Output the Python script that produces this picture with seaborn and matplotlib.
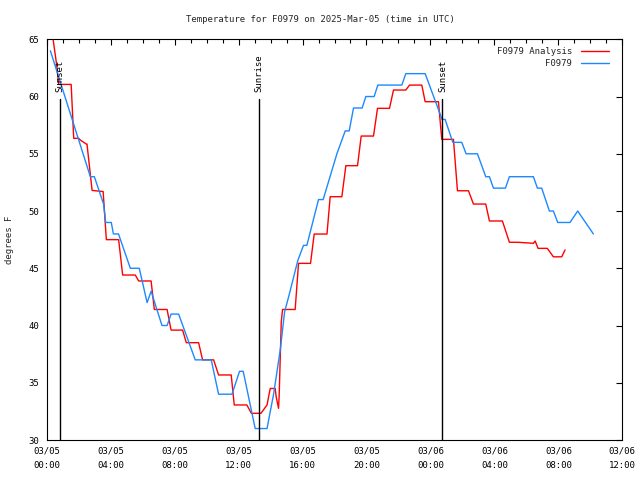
import numpy as np
import pandas as pd
import matplotlib
matplotlib.use("Agg")
import matplotlib.pyplot as plt
import matplotlib.dates as mdates
import matplotlib.transforms as mtransforms
import seaborn as sns

# ---------------- data ----------------
title = "Temperature for F0979 on 2025-Mar-05 (time in UTC)"
ylabel = "degrees F"
red_label = "F0979 Analysis"
blue_label = "F0979"

# hours after 2025-03-05 00:00 UTC
red_hours = [0.33, 0.40, 0.61, 0.75, 1.53, 1.69, 2.00, 2.10, 2.48, 2.52,
             2.84, 3.53, 3.73, 4.50, 4.75, 5.54, 5.75, 6.53, 6.73, 7.53,
             7.78, 8.50, 8.73, 9.50, 9.75, 10.44, 10.75, 11.54, 11.73, 12.52,
             12.80, 13.40, 13.63, 13.78, 13.98, 14.29, 14.35, 14.50, 14.54, 14.67,
             14.75, 15.54, 15.75, 16.50, 16.73, 17.53, 17.73, 18.46, 18.71, 19.44,
             19.67, 20.44, 20.69, 21.44, 21.69, 22.46, 22.69, 23.46, 23.67, 24.50,
             24.71, 25.44, 25.69, 26.38, 26.69, 27.46, 27.69, 28.50, 28.94, 29.50,
             30.44, 30.55, 30.73, 31.31, 31.69, 32.21, 32.42]
red_temps = [65.5, 65.0, 62.9, 61.06, 61.06, 56.35, 56.35, 56.2, 55.85, 55.85,
             51.8, 51.7, 47.5, 47.5, 44.41, 44.41, 43.89, 43.89, 41.4, 41.4,
             39.6, 39.6, 38.5, 38.5, 37.0, 37.0, 35.68, 35.68, 33.06, 33.06,
             32.33, 32.33, 32.77, 33.06, 34.5, 34.5, 33.8, 32.77, 33.9, 40.3,
             41.4, 41.4, 45.43, 45.43, 47.99, 47.99, 51.25, 51.25, 53.96, 53.96,
             56.55, 56.55, 58.97, 58.97, 60.57, 60.57, 61.0, 61.0, 59.55, 59.55,
             56.26, 56.26, 51.77, 51.77, 50.61, 50.61, 49.13, 49.13, 47.27, 47.27,
             47.18, 47.38, 46.74, 46.74, 46.0, 46.0, 46.6]

blue_hours = [0.23, 2.73, 2.98, 3.56, 3.69, 4.04, 4.17, 4.49, 5.23, 5.79,
              6.28, 6.53, 7.21, 7.53, 7.78, 8.25, 9.29, 10.29, 10.75, 11.59,
              12.06, 12.29, 13.04, 13.78, 14.19, 14.61, 14.88, 15.13, 15.71, 16.06,
              16.27, 17.00, 17.29, 18.15, 18.67, 18.92, 19.19, 19.73, 19.96, 20.48,
              20.71, 22.21, 22.46, 23.67, 24.73, 24.92, 25.40, 25.96, 26.23, 26.94,
              27.46, 27.69, 27.94, 28.69, 28.94, 30.44, 30.69, 30.96, 31.44, 31.69,
              31.96, 32.73, 33.21, 34.19]
blue_temps = [64, 53, 53, 50.6, 49, 49, 48, 48, 45, 45,
              42, 43, 40, 40, 41, 41, 37, 37, 34, 34,
              36, 36, 31, 31, 34, 37.9, 41.2, 42.5, 45.7, 47,
              47, 51, 51, 55, 57, 57, 59, 59, 60, 60,
              61, 61, 62, 62, 58, 58, 56, 56, 55, 55,
              53, 53, 52, 52, 53, 53, 52, 52, 50, 50,
              49, 49, 50, 48]

event_hours = [0.81, 13.25, 24.75]
event_labels = ["Sunset", "Sunrise", "Sunset"]

xtick_hours = [0, 4, 8, 12, 16, 20, 24, 28, 32, 36]
xtick_labels = ["03/05\n00:00", "03/05\n04:00", "03/05\n08:00", "03/05\n12:00",
                "03/05\n16:00", "03/05\n20:00", "03/06\n00:00", "03/06\n04:00",
                "03/06\n08:00", "03/06\n12:00"]
yticks = [30, 35, 40, 45, 50, 55, 60, 65]

# ---------------- plot ----------------
sns.set_style("white")
plt.rcParams['font.family'] = ['DejaVu Sans Mono', 'DejaVu Sans']
FS = 6.5

base = pd.Timestamp("2025-03-05 00:00")


def to_dt(h):
    return base + pd.to_timedelta(np.asarray(h, dtype=float), unit="h")


df_red = pd.DataFrame({"time": to_dt(red_hours), "temp": red_temps})
df_blue = pd.DataFrame({"time": to_dt(blue_hours), "temp": blue_temps})

fig = plt.figure(figsize=(6.4, 4.8), dpi=100)
ax = fig.add_axes([46.7 / 640, 40 / 480, (622.3 - 46.7) / 640, (440 - 39.3) / 480])

sns.lineplot(data=df_red, x="time", y="temp", ax=ax, color="#ff0000", lw=1.0,
             label=red_label, estimator=None, sort=False)
sns.lineplot(data=df_blue, x="time", y="temp", ax=ax, color="#1e88ff", lw=1.0,
             label=blue_label, estimator=None, sort=False)

ax.set_xlim(to_dt([0])[0], to_dt([36])[0])
ax.set_ylim(30, 65)

ax.set_xticks(to_dt(xtick_hours))
ax.set_xticklabels(xtick_labels, linespacing=1.8, fontsize=FS)
ax.xaxis.set_minor_locator(mdates.HourLocator())
ax.set_yticks(yticks)
ax.set_yticklabels([str(v) for v in yticks], fontsize=FS)

ax.tick_params(which='both', direction='in', top=True, right=True,
               width=0.8, color='black', labelcolor='black')
ax.tick_params(which='major', length=4.5)
ax.tick_params(which='minor', length=3)
ax.tick_params(axis='y', pad=5.5)
ax.tick_params(axis='x', pad=4.5)

for s in ax.spines.values():
    s.set_color('black')
    s.set_linewidth(0.8)
ax.grid(False)
ax.set_xlabel("")
ax.set_ylabel("")

trans = mtransforms.blended_transform_factory(ax.transData, ax.transAxes)
for h, lab in zip(to_dt(event_hours), event_labels):
    ax.axvline(x=h, ymin=0, ymax=0.851, color='black', lw=1.0)
    ax.text(h, 0.868, lab, transform=trans, rotation=90, ha='center', va='bottom',
            fontsize=FS, color='black')

fig.text(0.5, 1 - 19 / 480, title, ha='center', va='center', fontsize=FS)
fig.text(10 / 640, 1 - 240 / 480, ylabel, rotation=90, ha='center', va='center', fontsize=FS)

ax.legend(loc='upper right', bbox_to_anchor=(609.3 / 640, 1 - 47 / 480),
          bbox_transform=fig.transFigure, frameon=False, markerfirst=False,
          fontsize=FS, handlelength=3.1, handletextpad=1.0, borderpad=0,
          borderaxespad=0, labelspacing=0.35)

fig.savefig("out.png", dpi=100)
